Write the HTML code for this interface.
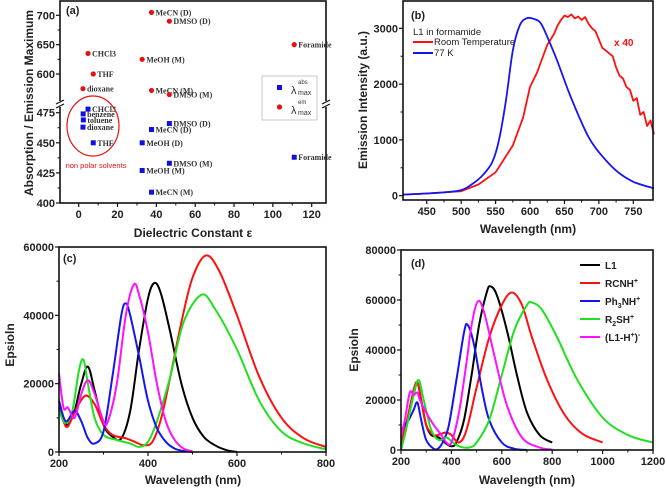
<!DOCTYPE html>
<html><head><meta charset="utf-8">
<style>
html,body{margin:0;padding:0;background:#fff;}
svg{display:block;font-family:"Liberation Sans",sans-serif;}
.tk{font-size:11px;font-weight:bold;fill:#222;}
.ttl{font-size:12px;font-weight:bold;fill:#222;}
.ser{font-family:"Liberation Serif",serif;font-size:8px;font-weight:bold;fill:#333;}
</style></head>
<body>
<svg id="fig" width="666" height="489" viewBox="0 0 666 489" xmlns="http://www.w3.org/2000/svg"></svg>
<script>
// ---------- Panel (a) data ----------
const emLabels = ["MeCN (D)","DMSO (D)","Foramide","CHCl3","MeOH (M)","THF","dioxane","MeCN (M)","DMSO (M)"];
const emEps = [37.5,46.7,111,4.8,32.7,7.5,2.2,37.5,46.7];
const emVals = [705,690,650,635,625,600,575,572,565];
const abLabels = ["CHCl3","benzene","toluene","dioxane","THF","DMSO (D)","MeCN (D)","MeOH (D)","Foramide","DMSO (M)","MeOH (M)","MeCN (M)"];
const abEps = [4.8,2.3,2.4,2.2,7.5,46.7,37.5,32.7,111,46.7,32.7,37.5];
const abVals = [478,474,469,463,450,466,461,450,438,433,427,409];
const aXTicks = [0,20,40,60,80,100,120];
const aYTicksUp = [600,650,700];
const aYTicksLo = [400,425,450,475];
// ---------- Panel (b) data ----------
const bTicksX = [450,500,550,600,650,700,750];
const bTicksY = [0,1000,2000,3000];
const bRoomX = [415,450,500,525,550,575,590,600,610,625,635,640,645,650,655,660,665,670,675,680,685,690,695,700,705,710,715,720,725,730,735,740,745,750,755,760,765,770,775,780];
const bRoomY = [20,40,80,200,420,900,1400,1950,2200,2700,2900,3050,3150,3230,3200,3250,3180,3210,3150,3200,3080,3000,2950,2800,2650,2600,2550,2500,2300,2150,2100,1950,1900,1700,1750,1450,1500,1250,1350,1100];
const bColdX = [415,450,475,500,515,530,545,555,565,575,585,595,605,615,625,640,655,670,685,700,725,750,780];
const bColdY = [20,40,60,100,200,350,600,1000,1700,2600,3050,3180,3170,3100,2850,2400,1900,1450,1050,780,450,250,130];
// ---------- Panel (c) data ----------
const cTicksX = [200,400,600,800];
const cTicksY = [0,20000,40000,60000];
const cBlackX=[200,210,220,235,250,265,280,300,320,340,360,380,400,415,430,450,475,500,525,550,575,600];
const cBlackY=[15000,10000,8000,12000,20000,25000,18000,8000,4500,4000,12000,30000,45000,49500,46000,35000,20000,10000,4500,2000,600,0];
const cRedX=[200,210,220,240,260,280,300,320,350,370,390,410,430,450,475,500,530,560,600,650,700,750,800];
const cRedY=[13000,9000,7500,13000,16500,14000,8000,5000,4000,3000,2000,3000,10000,22000,38000,51000,57500,53000,40000,22000,10000,4000,1500];
const cGreenX=[200,215,230,245,255,265,280,300,330,360,380,400,420,450,480,520,550,600,650,700,750,800];
const cGreenY=[12000,8500,12000,24000,27000,20000,10000,5000,3500,2500,1500,3000,9000,22000,38000,46000,42000,30000,15000,6000,2500,800];
const cBlueX=[200,215,235,250,265,280,300,320,340,350,360,380,400,420,440,460,480,500];
const cBlueY=[15000,9000,12000,9000,4000,2500,6000,22000,40000,43500,40000,28000,15000,7000,3000,1000,300,0];
const cMagX=[200,210,220,235,250,265,280,300,310,330,350,368,380,400,420,440,460,480,500];
const cMagY=[23000,13000,13000,10000,17000,21000,17000,9000,9000,20000,40000,49000,46000,35000,20000,9000,3500,1000,200];
// ---------- Panel (d) data ----------
const dTicksX = [200,400,600,800,1000,1200];
const dTicksY = [0,20000,40000,60000,80000];
const dLegend = ["L1","RCNH","Ph3NH","R2SH","(L1-H)"];
const dBlackX=[200,220,250,265,280,300,320,350,380,400,420,450,480,510,540,555,580,620,660,700,750,800];
const dBlackY=[2000,10000,22000,27000,20000,10000,6000,5000,2500,1500,3000,12000,30000,50000,63000,65500,62000,48000,30000,15000,6000,3000];
const dRedX=[200,220,250,265,280,300,330,360,380,400,430,460,500,550,600,640,680,720,780,850,920,1000];
const dRedY=[3000,10000,24000,27000,20000,10000,6000,6500,7000,6000,3000,8000,25000,45000,58000,63000,58000,45000,28000,14000,6500,3000];
const dBlueX=[200,230,250,265,280,300,330,350,370,390,420,450,465,490,520,550,600,650,700];
const dBlueY=[8000,12000,16000,19000,12000,4000,500,800,4000,10000,28000,47000,50000,42000,25000,12000,3000,500,0];
const dGreenX=[200,220,250,270,290,320,350,380,400,430,470,500,550,600,650,700,720,760,820,900,1000,1100,1200];
const dGreenY=[0,8000,22000,28000,20000,8000,4000,5000,3500,1500,1000,3000,12000,30000,48000,58000,59000,56000,45000,28000,13000,6000,3000];
const dMagX=[200,215,235,250,265,275,300,330,360,380,400,430,460,480,505,530,570,620,680,750,800];
const dMagY=[5000,12000,23000,22000,23000,20000,15000,10000,6000,3000,3000,15000,35000,50000,59500,55000,38000,18000,5000,1000,200];

const NS="http://www.w3.org/2000/svg";
const svg=document.getElementById('fig');
function mk(tag,attrs,parent,text){const e=document.createElementNS(NS,tag);for(const k in attrs)e.setAttribute(k,attrs[k]);if(text!==undefined)e.textContent=text;(parent||svg).appendChild(e);return e;}
function lin(d0,d1,r0,r1){return v=>r0+(v-d0)*(r1-r0)/(d1-d0);}
function pathFrom(xs,ys,sx,sy,smooth){
 const P=xs.map((x,i)=>[sx(x),sy(ys[i])]);
 let d="M"+P[0][0].toFixed(1)+","+P[0][1].toFixed(1);
 for(let i=0;i<P.length-1;i++){
  if(!smooth){d+="L"+P[i+1][0].toFixed(1)+","+P[i+1][1].toFixed(1);continue;}
  const p0=P[Math.max(0,i-1)],p1=P[i],p2=P[i+1],p3=P[Math.min(P.length-1,i+2)];
  const c1=[p1[0]+(p2[0]-p0[0])/6,p1[1]+(p2[1]-p0[1])/6];
  const c2=[p2[0]-(p3[0]-p1[0])/6,p2[1]-(p3[1]-p1[1])/6];
  d+="C"+c1[0].toFixed(1)+","+c1[1].toFixed(1)+" "+c2[0].toFixed(1)+","+c2[1].toFixed(1)+" "+p2[0].toFixed(1)+","+p2[1].toFixed(1);
 }
 return d;}
function frame(g,l,t,r,b){const f=mk('rect',{x:l,y:t,width:r-l,height:b-t,fill:'none',stroke:'#111','stroke-width':1.6},g);}
function xTicks(g,ticks,sx,b){ticks.forEach((v,i)=>{mk('line',{x1:sx(v),x2:sx(v),y1:b,y2:b+4,stroke:'#111','stroke-width':1.2},g);if(i<ticks.length-1){const m=(sx(v)+sx(ticks[i+1]))/2;mk('line',{x1:m,x2:m,y1:b,y2:b+2.5,stroke:'#111','stroke-width':1},g);}const t=mk('text',{x:sx(v),y:b+15,'text-anchor':'middle',class:'tk'},g,String(v));});}
function yTicks(g,ticks,sy,l){ticks.forEach((v,i)=>{mk('line',{x1:l-4,x2:l,y1:sy(v),y2:sy(v),stroke:'#111','stroke-width':1.2},g);if(i<ticks.length-1){const m=(sy(v)+sy(ticks[i+1]))/2;mk('line',{x1:l-2.5,x2:l,y1:m,y2:m,stroke:'#111','stroke-width':1},g);}const t=mk('text',{x:l-5,y:sy(v)+4,'text-anchor':'end',class:'tk'},g,String(v));});}
function curve(g,xs,ys,sx,sy,color,name,w,smooth){const p=mk('path',{d:pathFrom(xs,ys,sx,sy,smooth!==false),fill:'none',stroke:color,'stroke-width':w||2,'stroke-linejoin':'round'},g);}

// ===== Panel (a) =====
(function(){
const g=mk('g',{});
const L=60,R=326,T=1,B=203;
const sx=lin(0,120,78.7,311.7);
const syU=lin(600,700,74,15.3);
const syL=lin(400,475,203,112.7);
frame(g,L,T,R,B);
[L,R].forEach(x=>{mk('rect',{x:x-3,y:101,width:6,height:6,fill:'#fff'},g);mk('line',{x1:x-4,y1:104,x2:x+4,y2:100,stroke:'#111','stroke-width':1.2},g);mk('line',{x1:x-4,y1:108,x2:x+4,y2:104,stroke:'#111','stroke-width':1.2},g);});
xTicks(g,aXTicks,sx,B);
yTicks(g,aYTicksUp,syU,L);yTicks(g,aYTicksLo,syL,L);
mk('text',{x:66,y:14,class:'tk'},g,'(a)');
const yt=mk('text',{x:33,y:103,'text-anchor':'middle',class:'ttl',transform:'rotate(-90 33 103)'},g,'Absorption / Emission Maximum');
const xt=mk('text',{x:193,y:237,'text-anchor':'middle',class:'ttl'},g,'Dielectric Constant ε');
emVals.forEach((v,i)=>{const c=mk('circle',{cx:sx(emEps[i]),cy:syU(v),r:2.6,fill:'#e81010'},g);
 mk('text',{x:sx(emEps[i])+4,y:syU(v)+3,class:'ser'},g,emLabels[i]);});
abVals.forEach((v,i)=>{const c=mk('rect',{x:sx(abEps[i])-2.5,y:syL(v)-2.5,width:5,height:5,fill:'#1010e0'},g);
 mk('text',{x:sx(abEps[i])+4,y:syL(v)+3,class:'ser'},g,abLabels[i]);});
const el=mk('ellipse',{cx:93,cy:126,rx:26,ry:30,fill:'none',stroke:'#e81010','stroke-width':1.2},g);
mk('text',{x:96,y:168,'text-anchor':'middle','font-size':'7.5px',fill:'#e81010'},g,'non polar solvents');
const lg=mk('g',{},g);
mk('rect',{x:262,y:76,width:55,height:44,fill:'#fff',stroke:'#bbb','stroke-width':0.8},lg);
mk('rect',{x:277,y:85,width:5,height:5,fill:'#1010e0'},lg);
mk('circle',{cx:279.5,cy:107,r:2.6,fill:'#e81010'},lg);
mk('text',{x:291,y:94,'font-size':'11px',fill:'#333'},lg,'λ');mk('text',{x:298,y:84,'font-size':'6px',fill:'#333'},lg,'abs');mk('text',{x:298,y:95,'font-size':'7px',fill:'#333'},lg,'max');
mk('text',{x:291,y:114,'font-size':'11px',fill:'#333'},lg,'λ');mk('text',{x:298,y:104,'font-size':'6px',fill:'#333'},lg,'em');mk('text',{x:298,y:115,'font-size':'7px',fill:'#333'},lg,'max');
})();

// ===== Panel (b) =====
(function(){
const g=mk('g',{});
const L=403,R=653,T=1,B=200;
const sx=lin(415.5,778.6,L,R);const sy=lin(0,3000,195.7,28.3);
curve(g,bRoomX,bRoomY,sx,sy,'#ff1010','room-temperature-line',1.8,false);
curve(g,bColdX,bColdY,sx,sy,'#1515f0','77k-line',1.8,true);
frame(g,L,T,R,B);
xTicks(g,bTicksX,sx,B);yTicks(g,bTicksY,sy,L);
mk('text',{x:411,y:19,class:'tk'},g,'(b)');
mk('text',{x:413,y:35,'font-size':'9.5px',fill:'#222'},g,'L1 in formamide');
mk('line',{x1:413,x2:433,y1:42,y2:42,stroke:'#ff1010','stroke-width':2},g);
mk('text',{x:434,y:45,'font-size':'9.5px',fill:'#222'},g,'Room Temperature');
mk('line',{x1:413,x2:433,y1:53,y2:53,stroke:'#1515f0','stroke-width':2},g);
mk('text',{x:434,y:56,'font-size':'9.5px',fill:'#222'},g,'77 K');
mk('text',{x:614,y:46,'font-size':'10px','font-weight':'bold',fill:'#ff1010'},g,'x 40');
const yt=mk('text',{x:367,y:100,'text-anchor':'middle',class:'ttl',transform:'rotate(-90 367 100)'},g,'Emission Intensity (a.u.)');
const xt=mk('text',{x:528,y:233,'text-anchor':'middle',class:'ttl'},g,'Wavelength (nm)');
})();

// ===== Panel (c) =====
(function(){
const g=mk('g',{});
const L=59,R=326,T=247,B=452;
const sx=lin(200,800,L,R);const sy=lin(0,60000,B,T);
curve(g,cBlackX,cBlackY,sx,sy,'#000','series-black');
curve(g,cRedX,cRedY,sx,sy,'#ff1010','series-red');
curve(g,cGreenX,cGreenY,sx,sy,'#20e020','series-green');
curve(g,cBlueX,cBlueY,sx,sy,'#1515f0','series-blue');
curve(g,cMagX,cMagY,sx,sy,'#ff10ff','series-magenta');
frame(g,L,T,R,B);
xTicks(g,cTicksX,sx,B);yTicks(g,cTicksY,sy,L);
mk('text',{x:63,y:262,class:'tk'},g,'(c)');
const yt=mk('text',{x:14,y:345,'text-anchor':'middle',class:'ttl','font-size':'13px',transform:'rotate(-90 14 345)'},g,'Epsioln');
const xt=mk('text',{x:193,y:484,'text-anchor':'middle',class:'ttl'},g,'Wavelength (nm)');
})();

// ===== Panel (d) =====
(function(){
const g=mk('g',{});
const L=401,R=653,T=250,B=450;
const sx=lin(200,1200,L,R);const sy=lin(0,80000,B,T);
curve(g,dBlackX,dBlackY,sx,sy,'#000','series-l1');
curve(g,dRedX,dRedY,sx,sy,'#ff1010','series-rcnh');
curve(g,dBlueX,dBlueY,sx,sy,'#1515f0','series-ph3nh');
curve(g,dGreenX,dGreenY,sx,sy,'#20e020','series-r2sh');
curve(g,dMagX,dMagY,sx,sy,'#ff10ff','series-l1-h');
frame(g,L,T,R,B);
xTicks(g,dTicksX,sx,B);yTicks(g,dTicksY,sy,L);
mk('text',{x:411,y:267,class:'tk'},g,'(d)');
const cols=['#000','#ff1010','#1515f0','#20e020','#ff10ff'];
const labs=['L1','RCNH<tspan dy="-4" font-size="7">+</tspan>','Ph<tspan dy="3" font-size="7">3</tspan><tspan dy="-3">NH</tspan><tspan dy="-4" font-size="7">+</tspan>','R<tspan dy="3" font-size="7">2</tspan><tspan dy="-3">SH</tspan><tspan dy="-4" font-size="7">+</tspan>','(L1-H<tspan dy="-4" font-size="7">+</tspan><tspan dy="4">)</tspan><tspan dy="-4" font-size="7">-</tspan>'];
cols.forEach((c,i)=>{const y=265+i*18;const e=mk('g',{},g);
 mk('line',{x1:580,x2:600,y1:y,y2:y,stroke:c,'stroke-width':2},e);
 const t=mk('text',{x:605,y:y+4,'font-size':'10px','font-weight':'bold',fill:'#222'},e);t.innerHTML=labs[i];});
const yt=mk('text',{x:358,y:350,'text-anchor':'middle',class:'ttl','font-size':'13px',transform:'rotate(-90 358 350)'},g,'Epsioln');
const xt=mk('text',{x:527,y:484,'text-anchor':'middle',class:'ttl'},g,'Wavelength (nm)');
})();
</script>
</body></html>
